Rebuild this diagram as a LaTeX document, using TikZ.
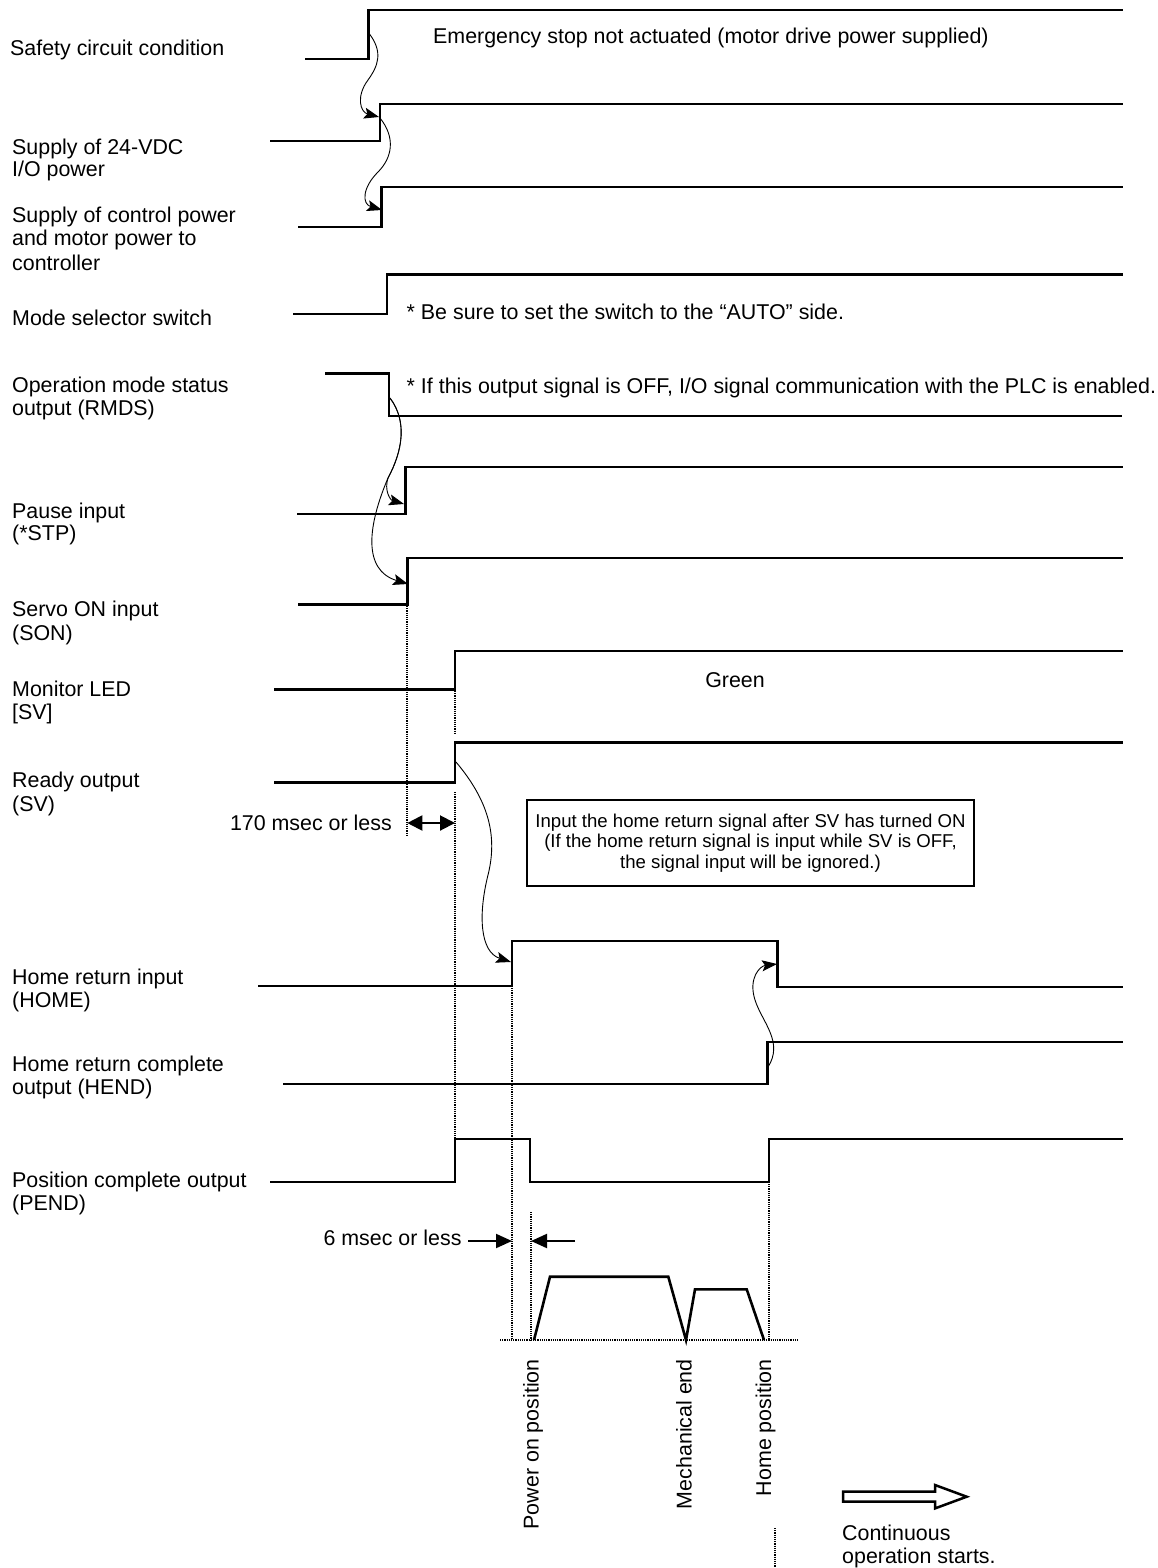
\documentclass[tikz,border=0pt]{standalone}
\usepackage{fontspec}
\setmainfont{Liberation Sans}
\usetikzlibrary{arrows.meta}
\begin{document}
\begin{tikzpicture}[x=1pt,y=-1pt,
  sig/.style={line width=2.6pt, line join=miter},
  dotl/.style={line width=2pt, dash pattern=on 1.2pt off 1pt},
  curv/.style={line width=0.9pt, -{Stealth[length=15pt,width=11pt,inset=3pt]}},
  lbl/.style={anchor=base west, inner sep=0pt, font=\fontsize{21.4}{23.3}\selectfont},
  note/.style={anchor=base west, inner sep=0pt, font=\fontsize{21.4}{23.3}\selectfont},
  dim/.style={line width=2pt}
]
\useasboundingbox (0,0) rectangle (1158,1568);

% ---------- left labels ----------
\node[lbl] (l1)  at (10,55.5)  {Safety circuit condition};
\node[lbl] (l2a) at (12,154.2) {Supply of 24-VDC};
\node[lbl] (l2b) at (12,176.8) {I/O power};
\node[lbl] (l3a) at (12,222.5) {Supply of control power};
\node[lbl] (l3b) at (12,245.8) {and motor power to};
\node[lbl] (l3c) at (12,270.2) {controller};
\node[lbl] (l4)  at (12,325.8) {Mode selector switch};
\node[lbl] (l5a) at (12,392.5) {Operation mode status};
\node[lbl] (l5b) at (12,415.8) {output (RMDS)};
\node[lbl] (l6a) at (12,518.2) {Pause input};
\node[lbl] (l6b) at (12,540.8) {(*STP)};
\node[lbl] (l7a) at (12,616.8) {Servo ON input};
\node[lbl] (l7b) at (12,640.2) {(SON)};
\node[lbl] (l8a) at (12,696.8) {Monitor LED};
\node[lbl] (l8b) at (12,719.2) {[SV]};
\node[lbl] (l9a) at (12,787.5) {Ready output};
\node[lbl] (l9b) at (12,811.5) {(SV)};
\node[lbl] (l10a) at (12,984.5) {Home return input};
\node[lbl] (l10b) at (12,1007.5) {(HOME)};
\node[lbl] (l11a) at (12,1071.5) {Home return complete};
\node[lbl] (l11b) at (12,1094.5) {output (HEND)};
\node[lbl] (l12a) at (12,1187.5) {Position complete output};
\node[lbl] (l12b) at (12,1210.5) {(PEND)};

% ---------- waveforms ----------
\draw[sig] (305,59) -- (368.5,59) -- (368.5,10) -- (1123,10);
\draw[sig] (270,141) -- (380,141) -- (380,104) -- (1123,104);
\draw[sig] (298,227) -- (381.5,227) -- (381.5,187) -- (1123,187);
\draw[sig] (293,314) -- (387,314) -- (387,274.5) -- (1123,274.5);
\draw[sig] (325,373.5) -- (389,373.5) -- (389,416) -- (1122,416);
\draw[sig] (297,514) -- (405.7,514) -- (405.7,467) -- (1123,467);
\draw[sig] (298,604.5) -- (407.3,604.5) -- (407.3,558) -- (1123,558);
\draw[sig] (274,689.5) -- (455,689.5) -- (455,651) -- (1123,651);
\draw[sig] (274,782.3) -- (455,782.3) -- (455,742.5) -- (1123,742.5);
\draw[sig] (258,986) -- (512,986) -- (512,941) -- (777.5,941) -- (777.5,987) -- (1123,987);
\draw[sig] (283,1084) -- (767.5,1084) -- (767.5,1042) -- (1123,1042);
\draw[sig] (270,1182) -- (455,1182) -- (455,1139) -- (530,1139) -- (530,1182)
           -- (769,1182) -- (769,1139) -- (1123,1139);

% ---------- notes on waveforms ----------
\node[note] (n1) at (433,43.5) {Emergency stop not actuated (motor drive power supplied)};
\node[note] (n2) at (406.5,319.2) {* Be sure to set the switch to the “AUTO” side.};
\node[note] (n3) at (406.5,393.5) {* If this output signal is OFF, I/O signal communication with the PLC is enabled.};
\node[note, anchor=base] (n4) at (735,687.5) {Green};

% ---------- curved cause arrows ----------
\coordinate (c1s) at (368,32);   \coordinate (c1e) at (379,117);
\coordinate (c2s) at (380,118);  \coordinate (c2e) at (382,210);
\coordinate (c3s) at (390,398);  \coordinate (c3m) at (388,478);
\coordinate (c3e) at (404,504);  \coordinate (c4e) at (408,584);
\coordinate (c5s) at (456,762);  \coordinate (c5e) at (511,962);
\coordinate (c6s) at (768,1067); \coordinate (c6e) at (777,964);
\draw[curv] (c1s) .. controls (384,52) and (378,66) .. (368,80) .. controls (356,96) and (360,112) .. (c1e);
\draw[curv] (c2s) .. controls (396,138) and (392,158) .. (378,172) .. controls (362,188) and (362,204) .. (c2e);
\draw[curv] (c3s) .. controls (408,422) and (402,452) .. (c3m) .. controls (384,490) and (390,500) .. (c3e);
\draw[curv] (c3s) .. controls (408,422) and (402,452) .. (c3m) .. controls (368,525) and (362,570) .. (c4e);
\draw[curv] (c5s) .. controls (488,800) and (498,835) .. (488,875) .. controls (478,915) and (480,952) .. (c5e);
\draw[curv] (c6s) .. controls (784,1042) and (762,1022) .. (755,1000) .. controls (748,978) and (760,966) .. (c6e);

% ---------- dotted guide lines ----------
\draw[dotl] (407.3,606) -- (407.3,837);
\draw[dotl] (455,691) -- (455,735);
\draw[dotl] (455,792) -- (455,1139);
\draw[dotl] (512,988) -- (512,1340);
\draw[dotl] (530.7,1212) -- (530.7,1340);
\draw[dotl] (769,1184) -- (769,1340);
\draw[dotl] (775,1528) -- (775,1567);
\draw[dotl] (500,1340) -- (799,1340);

% ---------- timing dimensions ----------
\coordinate (d1a) at (407.3,823); \coordinate (d1b) at (455,823);
\draw[dim, {Triangle[length=15pt,width=15pt]}-{Triangle[length=15pt,width=15pt]}] (d1a) -- (d1b);
\node[note, anchor=base east] (t170) at (392,830.5) {170 msec or less};

\coordinate (d2a) at (468,1241); \coordinate (d2b) at (512,1241);
\coordinate (d3a) at (575,1241); \coordinate (d3b) at (531,1241);
\draw[dim, -{Triangle[length=16pt,width=14pt]}] (d2a) -- (d2b);
\draw[dim, -{Triangle[length=16pt,width=14pt]}] (d3a) -- (d3b);
\node[note, anchor=base east] (t6) at (461.7,1245.5) {6 msec or less};

% ---------- note box ----------
\node[draw, line width=2.5pt, minimum width=447pt, minimum height=86pt, inner sep=0pt,
      align=center, font=\fontsize{18.6}{20.8}\selectfont] (box) at (750.5,843)
  {Input the home return signal after SV has turned ON\\
   (If the home return signal is input while SV is OFF,\\
   the signal input will be ignored.)};

% ---------- speed profile ----------
\draw[sig] (534,1340) -- (550,1276.7) -- (668.3,1276.7) -- (686,1340) -- (695,1289.3)
           -- (746.7,1289.3) -- (764,1340);
\node[note, anchor=east, rotate=90] (p1) at (533,1359) {Power on position};
\node[note, anchor=east, rotate=90] (p2) at (684,1359) {Mechanical end};
\node[note, anchor=east, rotate=90] (p3) at (765.7,1359) {Home position};

% ---------- continuation arrow ----------
\draw[line width=2.5pt, line join=miter] (843,1491.7) -- (935,1491.7) -- (935,1485) -- (966.7,1496.7)
   -- (935,1508.4) -- (935,1501.7) -- (843,1501.7) -- cycle;
\node[note] (co1) at (842,1540) {Continuous};
\node[note] (co2) at (842,1563) {operation starts.};
\end{tikzpicture}
\end{document}
